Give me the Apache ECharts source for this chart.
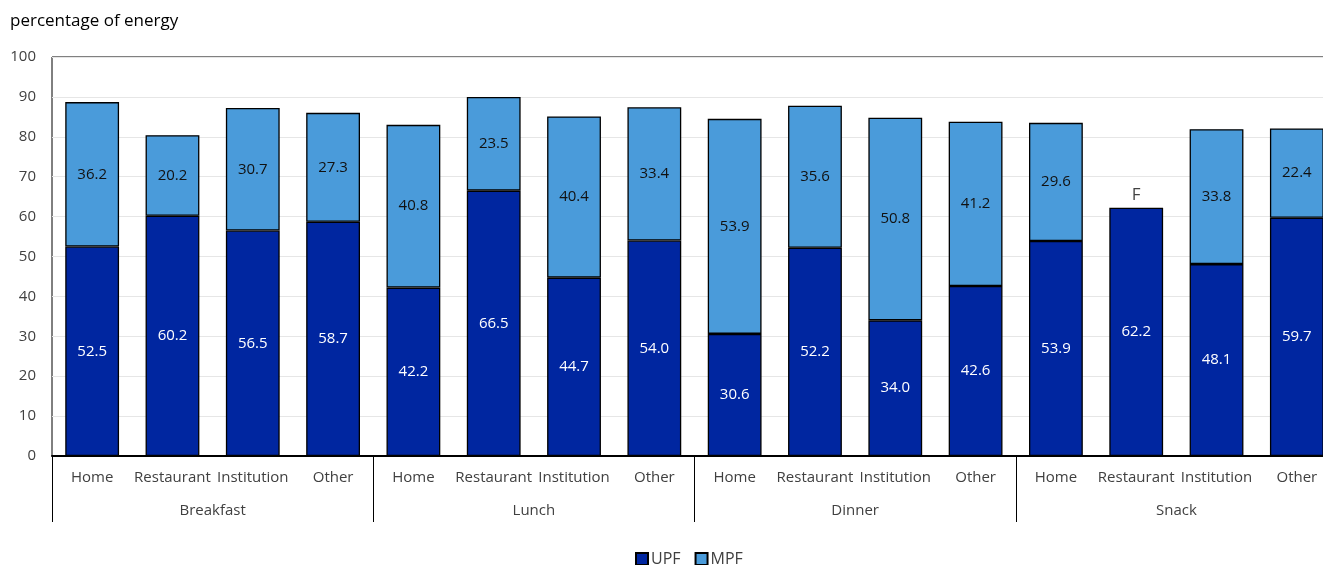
<!DOCTYPE html>
<html>
<head>
<meta charset="utf-8">
<script src="https://cdn.jsdelivr.net/npm/echarts@6/dist/echarts.min.js"></script>
<style>
  html, body { margin: 0; padding: 0; background: #fff; }
  #chart { width: 1323px; height: 565px; }
</style>
</head>
<body>
<div id="chart"></div>
<script>
var groups = ['Breakfast', 'Lunch', 'Dinner', 'Snack'];
var places = ['Home', 'Restaurant', 'Institution', 'Other'];
var categories = [];
groups.forEach(function () { places.forEach(function (p) { categories.push(p); }); });

var upf = [52.5, 60.2, 56.5, 58.7, 42.2, 66.5, 44.7, 54.0, 30.6, 52.2, 34.0, 42.6, 53.9, 62.2, 48.1, 59.7];
var mpf = [36.2, 20.2, 30.7, 27.3, 40.8, 23.5, 40.4, 33.4, 53.9, 35.6, 50.8, 41.2, 29.6, null, 33.8, 22.4];
var notes = ['', '', '', '', '', '', '', '', '', '', '', '', '', 'F', '', ''];

var font = 'Open Sans';

var dom = document.getElementById('chart');
var myChart = echarts.init(dom);
var option = {
    animation: false,
    textStyle: { fontFamily: font },
    title: {
        text: 'percentage of energy',
        left: 5, top: 8,
        textStyle: { fontSize: 17, fontWeight: 'normal', color: '#000', fontFamily: font }
    },
    legend: {
        top: 546,
        left: 630,
        icon: 'rect',
        itemWidth: 12, itemHeight: 12,
        itemGap: 14,
        textStyle: { fontSize: 16, color: '#404040', padding: [0, 0, 0, -2] },
        data: ['UPF', 'MPF']
    },
    grid: {
        left: 52, top: 57, width: 1285, height: 399,
        outerBoundsMode: 'none',
        containLabel: false,
        show: true, borderColor: '#000', borderWidth: 1
    },
    xAxis: [
        {
            type: 'category',
            data: categories,
            axisLine: { lineStyle: { color: '#000', width: 2 } },
            axisTick: { show: false },
            axisLabel: { interval: 0, fontSize: 15, color: '#404040', margin: 14 }
        },
        {
            type: 'category',
            data: groups,
            position: 'bottom',
            axisLine: { show: false },
            axisTick: { show: true, length: 66, interval: 0, lineStyle: { color: '#000', width: 1 } },
            axisLabel: { interval: 0, fontSize: 15, color: '#404040', margin: 47 }
        }
    ],
    yAxis: {
        type: 'value',
        min: 0, max: 100, interval: 10,
        axisLine: { show: false },
        axisTick: { show: false },
        axisLabel: { fontSize: 15, color: '#404040', margin: 16 },
        splitLine: { lineStyle: { color: '#e6e6e6', width: 1 } }
    },
    series: [
        {
            name: 'UPF', type: 'bar', stack: 'total', xAxisIndex: 0,
            barCategoryGap: '33%',
            data: upf,
            itemStyle: { color: '#0026A0', borderColor: '#000', borderWidth: 1.3 },
            label: { show: true, position: 'inside', color: '#fff', fontSize: 15,
                formatter: function (p) { return p.value.toFixed(1); } }
        },
        {
            name: 'MPF', type: 'bar', stack: 'total', xAxisIndex: 0,
            data: mpf,
            itemStyle: { color: '#4A9BDA', borderColor: '#000', borderWidth: 1.3 },
            label: { show: true, position: 'inside', color: '#111', fontSize: 15,
                formatter: function (p) { return p.value == null ? '' : p.value.toFixed(1); } }
        },
        {
            name: 'note', type: 'scatter', xAxisIndex: 0,
            symbolSize: 0,
            silent: true,
            data: notes.map(function (n, i) { return n ? [i, upf[i] + (mpf[i] || 0)] : null; }),
            label: { show: true, position: 'top', distance: 4, color: '#111', fontSize: 17,
                formatter: function (p) { return notes[p.dataIndex]; } }
        }
    ]
};
if (option && typeof option === "object") {
    myChart.setOption(option, true);
}
</script>
</body>
</html>
